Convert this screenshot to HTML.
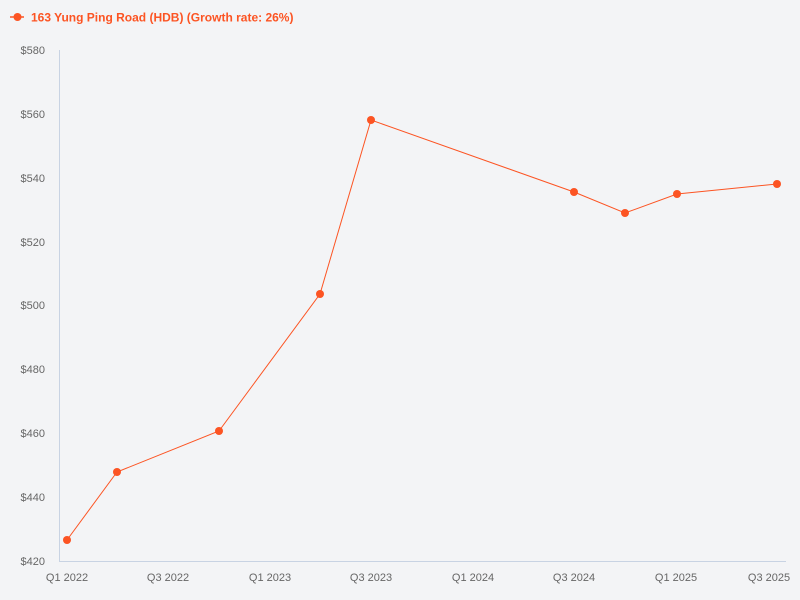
<!DOCTYPE html>
<html><head><meta charset="utf-8"><style>
html,body{margin:0;padding:0;background:#f3f4f6;}
svg{display:block;font-family:"Liberation Sans",sans-serif;}
</style></head><body>
<svg width="800" height="600" viewBox="0 0 800 600">
<rect width="800" height="600" fill="#f3f4f6"/>
<line x1="10" y1="17" x2="24" y2="17" stroke="#fc5423" stroke-width="1.5"/>
<circle cx="17.5" cy="17" r="4" fill="#fc5423"/>
<text x="31" y="21.5" font-size="12" font-weight="bold" fill="#fc5423">163 Yung Ping Road (HDB) (Growth rate: 26%)</text>
<line x1="59.5" y1="50" x2="59.5" y2="562" stroke="#c8d3e3" stroke-width="1"/>
<line x1="59" y1="561.5" x2="786" y2="561.5" stroke="#c8d3e3" stroke-width="1"/>
<g font-size="11" fill="#666" text-anchor="end">
<text x="45" y="54">$580</text>
<text x="45" y="118">$560</text>
<text x="45" y="182">$540</text>
<text x="45" y="246">$520</text>
<text x="45" y="309">$500</text>
<text x="45" y="373">$480</text>
<text x="45" y="437">$460</text>
<text x="45" y="501">$440</text>
<text x="45" y="565">$420</text>
</g>
<g font-size="11" fill="#666" text-anchor="middle">
<text x="67" y="581">Q1 2022</text>
<text x="168" y="581">Q3 2022</text>
<text x="270" y="581">Q1 2023</text>
<text x="371" y="581">Q3 2023</text>
<text x="473" y="581">Q1 2024</text>
<text x="574" y="581">Q3 2024</text>
<text x="676" y="581">Q1 2025</text>
<text x="769" y="581">Q3 2025</text>
</g>
<polyline fill="none" stroke="#fc5423" stroke-width="1" points="67,540 117,472 219,431 320,294 371,120 574,192 625,213 677,194 777,184"/>
<g fill="#fc5423">
<circle cx="67" cy="540" r="4"/><circle cx="117" cy="472" r="4"/><circle cx="219" cy="431" r="4"/>
<circle cx="320" cy="294" r="4"/><circle cx="371" cy="120" r="4"/><circle cx="574" cy="192" r="4"/>
<circle cx="625" cy="213" r="4"/><circle cx="677" cy="194" r="4"/><circle cx="777" cy="184" r="4"/>
</g>
</svg>
</body></html>
